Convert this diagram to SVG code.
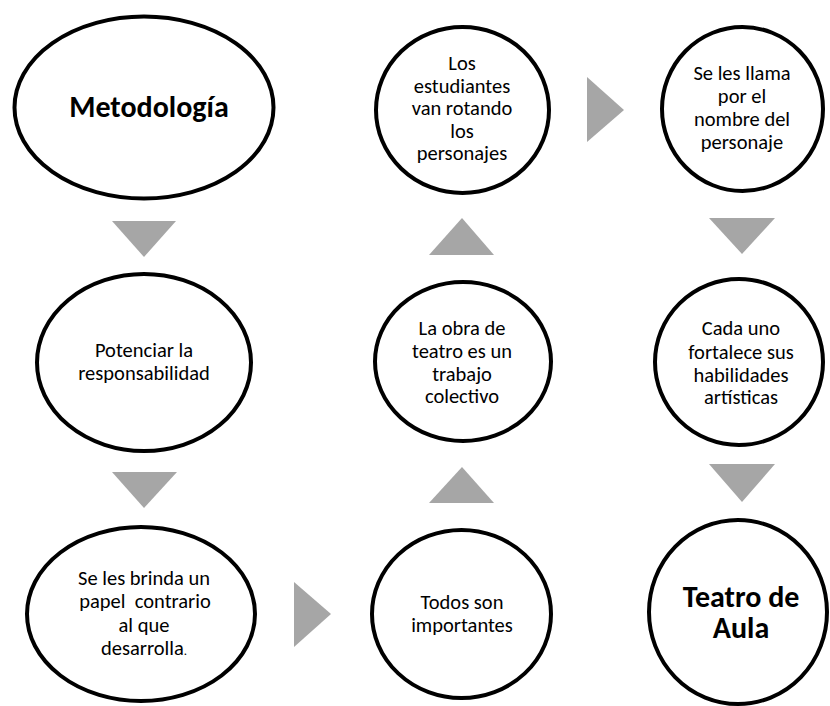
<svg xmlns="http://www.w3.org/2000/svg" width="830" height="706" viewBox="0 0 830 706">
<style>
.n{fill:#fff;stroke:#000;stroke-width:4}
.t{font-family:Carlito,"Liberation Sans",Arial,sans-serif;font-size:20.5px;fill:#000;text-anchor:middle}
.b{font-family:Carlito,"Liberation Sans",Arial,sans-serif;font-size:30px;font-weight:bold;fill:#000;text-anchor:middle}
.a{fill:#a6a6a6}
</style>
<rect width="830" height="706" fill="#fff"/>
<g id="connectors">
<polygon class="a" points="112,221 176,221 144,257"/>
<polygon class="a" points="112,472 177,472 144,508"/>
<polygon class="a" points="294,582 331,614 294,647"/>
<polygon class="a" points="429,503 494,503 462,467"/>
<polygon class="a" points="429,255 494,255 462,218"/>
<polygon class="a" points="587,77 624,110 587,142"/>
<polygon class="a" points="709,218 775,218 742,254"/>
<polygon class="a" points="709,464 775,464 742,502"/>
</g>
<g id="metodologia">
<ellipse class="n" cx="144" cy="107.5" rx="129.5" ry="91"/>
<text class="b" x="149" y="117">Metodología</text>
</g>
<g id="potenciar">
<ellipse class="n" cx="144" cy="362.5" rx="107" ry="88.5"/>
<text class="t" x="144" y="357">Potenciar la</text>
<text class="t" x="144" y="380">responsabilidad</text>
</g>
<g id="brinda">
<ellipse class="n" cx="141" cy="614" rx="114" ry="87"/>
<text class="t" x="144" y="585">Se les brinda un</text>
<text class="t" x="145" y="608" xml:space="preserve">papel  contrario</text>
<text class="t" x="144" y="632">al que</text>
<text class="t" x="144" y="655">desarrolla<tspan font-size="13">.</tspan></text>
</g>
<g id="todos">
<ellipse class="n" cx="461.5" cy="614" rx="89.5" ry="84"/>
<text class="t" x="462" y="609">Todos son</text>
<text class="t" x="462" y="632">importantes</text>
</g>
<g id="obra">
<ellipse class="n" cx="463" cy="361.5" rx="88" ry="79.5"/>
<text class="t" x="462" y="335">La obra de</text>
<text class="t" x="462" y="358">teatro es un</text>
<text class="t" x="462" y="381">trabajo</text>
<text class="t" x="462" y="403">colectivo</text>
</g>
<g id="estudiantes">
<ellipse class="n" cx="462.5" cy="110" rx="86.5" ry="83"/>
<text class="t" x="462" y="70">Los</text>
<text class="t" x="462" y="92.5">estudiantes</text>
<text class="t" x="462" y="115">van rotando</text>
<text class="t" x="462" y="137.5">los</text>
<text class="t" x="462" y="160">personajes</text>
</g>
<g id="llama">
<ellipse class="n" cx="742.5" cy="109" rx="80.5" ry="82"/>
<text class="t" x="742" y="80">Se les llama</text>
<text class="t" x="742" y="103">por el</text>
<text class="t" x="742" y="126">nombre del</text>
<text class="t" x="742" y="149">personaje</text>
</g>
<g id="cada">
<ellipse class="n" cx="739" cy="362" rx="84" ry="83"/>
<text class="t" x="741" y="335">Cada uno</text>
<text class="t" x="741" y="359">fortalece sus</text>
<text class="t" x="741" y="382">habilidades</text>
<text class="t" x="741" y="404">artísticas</text>
</g>
<g id="teatro">
<ellipse class="n" cx="738" cy="612" rx="89" ry="92"/>
<text class="b" x="741" y="607">Teatro de</text>
<text class="b" x="741" y="638">Aula</text>
</g>
</svg>
